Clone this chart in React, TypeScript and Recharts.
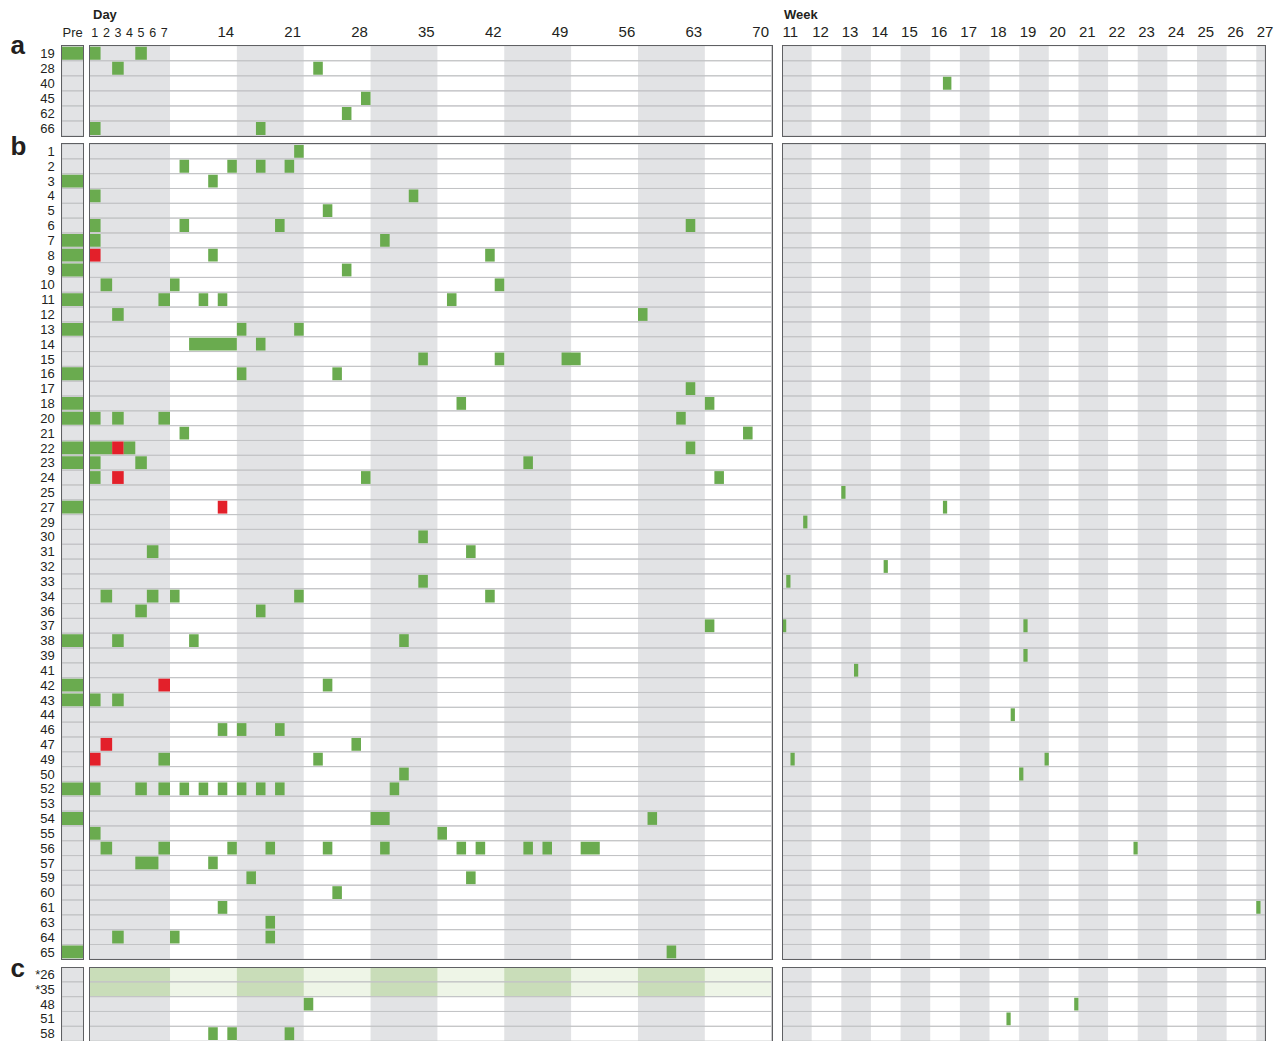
import React from 'react';
import { ComposedChart, Bar, Cell, XAxis, YAxis, ReferenceArea } from 'recharts';

const FONT = '"Liberation Sans", Arial, Helvetica, sans-serif';
const INK = '#231f20';
const GREEN = '#6aab4f';
const RED = '#e3202a';
const BAND = '#e2e3e5';
const LINE = '#c3c4c6';
const FRAME = '#5f6063';
const TINT_LIGHT = '#eef5e7';
const TINT_DARK = '#c9ddb9';

// ---------- rows ----------
const ROWS_A = ['19', '28', '40', '45', '62', '66'];
const ROWS_B = ['1', '2', '3', '4', '5', '6', '7', '8', '9', '10', '11', '12', '13', '14', '15', '16', '17', '18', '20', '21', '22', '23', '24', '25', '27', '29', '30', '31', '32', '33', '34', '36', '37', '38', '39', '41', '42', '43', '44', '46', '47', '49', '50', '52', '53', '54', '55', '56', '57', '59', '60', '61', '63', '64', '65'];
const ROWS_C = ['*26', '*35', '48', '51', '58'];
const TINT_ROWS_C = ['*26', '*35'];

// ---------- pre-treatment ----------
const PRE_A = ['19'];
const PRE_B = ['3', '7', '8', '9', '11', '13', '16', '18', '20', '22', '23', '27', '38', '42', '43', '52', '54', '65'];
const PRE_C: string[] = [];

// ---------- day marks: [row, first day, last day, kind] ----------
type DayMark = [string, number, number, 'g' | 'r'];
const DAY_MARKS_A: DayMark[] = [
  ['19', 1, 1, 'g'], ['19', 5, 5, 'g'], ['28', 3, 3, 'g'], ['28', 23, 23, 'g'],
  ['45', 28, 28, 'g'], ['62', 26, 26, 'g'], ['66', 1, 1, 'g'], ['66', 17, 17, 'g'],
];
const DAY_MARKS_B: DayMark[] = [
  ['1', 21, 21, 'g'],
  ['2', 9, 9, 'g'], ['2', 14, 14, 'g'], ['2', 17, 17, 'g'], ['2', 20, 20, 'g'],
  ['3', 12, 12, 'g'],
  ['4', 1, 1, 'g'], ['4', 33, 33, 'g'],
  ['5', 24, 24, 'g'],
  ['6', 1, 1, 'g'], ['6', 9, 9, 'g'], ['6', 19, 19, 'g'], ['6', 62, 62, 'g'],
  ['7', 1, 1, 'g'], ['7', 30, 30, 'g'],
  ['8', 1, 1, 'r'], ['8', 12, 12, 'g'], ['8', 41, 41, 'g'],
  ['9', 26, 26, 'g'],
  ['10', 2, 2, 'g'], ['10', 8, 8, 'g'], ['10', 42, 42, 'g'],
  ['11', 7, 7, 'g'], ['11', 11, 11, 'g'], ['11', 13, 13, 'g'], ['11', 37, 37, 'g'],
  ['12', 3, 3, 'g'], ['12', 57, 57, 'g'],
  ['13', 15, 15, 'g'], ['13', 21, 21, 'g'],
  ['14', 10, 14, 'g'], ['14', 17, 17, 'g'],
  ['15', 34, 34, 'g'], ['15', 42, 42, 'g'], ['15', 49, 50, 'g'],
  ['16', 15, 15, 'g'], ['16', 25, 25, 'g'],
  ['17', 62, 62, 'g'],
  ['18', 38, 38, 'g'], ['18', 64, 64, 'g'],
  ['20', 1, 1, 'g'], ['20', 3, 3, 'g'], ['20', 7, 7, 'g'], ['20', 61, 61, 'g'],
  ['21', 9, 9, 'g'], ['21', 68, 68, 'g'],
  ['22', 1, 2, 'g'], ['22', 3, 3, 'r'], ['22', 4, 4, 'g'], ['22', 62, 62, 'g'],
  ['23', 1, 1, 'g'], ['23', 5, 5, 'g'], ['23', 45, 45, 'g'],
  ['24', 1, 1, 'g'], ['24', 3, 3, 'r'], ['24', 28, 28, 'g'], ['24', 65, 65, 'g'],
  ['27', 13, 13, 'r'],
  ['30', 34, 34, 'g'],
  ['31', 6, 6, 'g'], ['31', 39, 39, 'g'],
  ['33', 34, 34, 'g'],
  ['34', 2, 2, 'g'], ['34', 6, 6, 'g'], ['34', 8, 8, 'g'], ['34', 21, 21, 'g'], ['34', 41, 41, 'g'],
  ['36', 5, 5, 'g'], ['36', 17, 17, 'g'],
  ['37', 64, 64, 'g'],
  ['38', 3, 3, 'g'], ['38', 10, 10, 'g'], ['38', 32, 32, 'g'],
  ['42', 7, 7, 'r'], ['42', 24, 24, 'g'],
  ['43', 1, 1, 'g'], ['43', 3, 3, 'g'],
  ['46', 13, 13, 'g'], ['46', 15, 15, 'g'], ['46', 19, 19, 'g'],
  ['47', 2, 2, 'r'], ['47', 27, 27, 'g'],
  ['49', 1, 1, 'r'], ['49', 7, 7, 'g'], ['49', 23, 23, 'g'],
  ['50', 32, 32, 'g'],
  ['52', 1, 1, 'g'], ['52', 5, 5, 'g'], ['52', 7, 7, 'g'], ['52', 9, 9, 'g'], ['52', 11, 11, 'g'],
  ['52', 13, 13, 'g'], ['52', 15, 15, 'g'], ['52', 17, 17, 'g'], ['52', 19, 19, 'g'], ['52', 31, 31, 'g'],
  ['54', 29, 30, 'g'], ['54', 58, 58, 'g'],
  ['55', 1, 1, 'g'], ['55', 36, 36, 'g'],
  ['56', 2, 2, 'g'], ['56', 7, 7, 'g'], ['56', 14, 14, 'g'], ['56', 18, 18, 'g'], ['56', 24, 24, 'g'],
  ['56', 30, 30, 'g'], ['56', 38, 38, 'g'], ['56', 40, 40, 'g'], ['56', 45, 45, 'g'], ['56', 47, 47, 'g'], ['56', 51, 52, 'g'],
  ['57', 5, 6, 'g'], ['57', 12, 12, 'g'],
  ['59', 16, 16, 'g'], ['59', 39, 39, 'g'],
  ['60', 25, 25, 'g'],
  ['61', 13, 13, 'g'],
  ['63', 18, 18, 'g'],
  ['64', 3, 3, 'g'], ['64', 8, 8, 'g'], ['64', 18, 18, 'g'],
  ['65', 60, 60, 'g'],
];
const DAY_MARKS_C: DayMark[] = [
  ['48', 22, 22, 'g'], ['58', 12, 12, 'g'], ['58', 14, 14, 'g'], ['58', 20, 20, 'g'],
];

// ---------- week marks: [row, week, day within week (0-6), length in days] ----------
type WeekMark = [string, number, number, number];
const WEEK_MARKS_A: WeekMark[] = [['40', 16, 3, 2]];
const WEEK_MARKS_B: WeekMark[] = [
  ['25', 13, 0, 1], ['27', 16, 3, 1], ['29', 11, 5, 1], ['32', 14, 3, 1], ['33', 11, 1, 1],
  ['37', 11, 0, 1], ['37', 19, 1, 1], ['39', 19, 1, 1], ['41', 13, 3, 1], ['44', 18, 5, 1],
  ['49', 11, 2, 1], ['49', 19, 6, 1], ['50', 19, 0, 1], ['56', 22, 6, 1], ['61', 27, 0, 1],
];
const WEEK_MARKS_C: WeekMark[] = [['48', 20, 6, 1], ['51', 18, 4, 1]];

// ---------- axes ----------
const DAY_TICKS_FIRST_WEEK = [1, 2, 3, 4, 5, 6, 7];
const DAY_TICKS_WEEKLY = [14, 21, 28, 35, 42, 49, 56, 63, 70];
const WEEK_TICKS = [11, 12, 13, 14, 15, 16, 17, 18, 19, 20, 21, 22, 23, 24, 25, 26, 27];
const LAST_DAY = 70;
const WEEK_DOMAIN: [number, number] = [11, 27.3];
const SHADED_DAY_RANGES: [number, number][] = [[1, 7], [15, 21], [29, 35], [43, 49], [57, 63]];
const SHADED_WEEKS = [11, 13, 15, 17, 19, 21, 23, 25, 27];

// first week is drawn wider than the following ones
const FIRST_WEEK_STRETCH = 1.2115;
const dayPos = (d: number) => (d <= 8 ? (d - 1) * FIRST_WEEK_STRETCH : 7 * FIRST_WEEK_STRETCH + (d - 8));
const DAY_DOMAIN: [number, number] = [0, dayPos(LAST_DAY + 1)];

// ---------- layout ----------
const PRE_X = 61.7, PRE_W = 21.8;
const DAY_X = 89.3, DAY_W = 682.7;
const WEEK_X = 782.3, WEEK_W = 483.2;
const AXIS_H = 45.7;
const PANELS = {
  a: { top: 45.7, rowH: 15.05 },
  b: { top: 144, rowH: 14.824 },
  c: { top: 967.3, rowH: 14.824 },
};

type Mark = { row: string; x1: number; x2: number; color: string };

const dayMarks = (m: DayMark[]): Mark[] =>
  m.map(([row, a, b, k]) => ({ row, x1: dayPos(a), x2: dayPos(b + 1), color: k === 'r' ? RED : GREEN }));
const weekMarks = (m: WeekMark[]): Mark[] =>
  m.map(([row, w, d, n]) => ({ row, x1: w + d / 7, x2: w + (d + n) / 7, color: GREEN }));
const preMarks = (rows: string[]): Mark[] => rows.map((row) => ({ row, x1: 0, x2: 1, color: GREEN }));

const DAY_AXIS = [
  ...DAY_TICKS_FIRST_WEEK.map((d) => ({ v: dayPos(d) + FIRST_WEEK_STRETCH / 2, label: String(d), small: true })),
  ...DAY_TICKS_WEEKLY.map((d) => ({ v: dayPos(d), label: String(d), small: false })),
];

const DayTick = (props: any) => {
  const { x, y, payload } = props;
  const t = DAY_AXIS.find((e) => Math.abs(e.v - payload.value) < 1e-6);
  if (!t) return <g />;
  return (
    <text x={x + (t.small ? 0 : -1.5)} y={y} textAnchor="middle" fontSize={t.small ? 12.5 : 15} fill={INK} fontFamily={FONT}>
      {t.label}
    </text>
  );
};
const WeekTick = (props: any) => {
  const { x, y, payload } = props;
  return (
    <text x={x + 0.5} y={y} textAnchor="start" fontSize={15} fill={INK} fontFamily={FONT}>
      {payload.value}
    </text>
  );
};
const PreTick = (props: any) => {
  const { x, y } = props;
  return (
    <text x={x} y={y} textAnchor="middle" fontSize={13} fill={INK} fontFamily={FONT}>
      Pre
    </text>
  );
};

interface GridProps {
  rows: string[];
  marks: Mark[];
  domain: [number, number];
  shaded: [number, number][];
  tintRows?: string[];
  left: number;
  top: number;
  width: number;
  rowH: number;
  axisTicks?: number[];
  axisTick?: (p: any) => React.ReactElement;
  showRowLabels?: boolean;
  rightRoom?: number;
}

function Grid(p: GridProps) {
  const height = p.rowH * p.rows.length;
  const axisH = p.axisTicks ? AXIS_H : 0;
  const yW = p.showRowLabels ? p.left : 0;
  const rightRoom = p.rightRoom || 0;
  const chartW = p.width + yW + rightRoom;
  const chartH = height + axisH;
  const byRow: Record<string, Mark[]> = {};
  p.rows.forEach((r) => (byRow[r] = []));
  p.marks.forEach((m) => byRow[m.row].push(m));
  const maxN = Math.max(1, ...p.rows.map((r) => byRow[r].length));
  const data = p.rows.map((r) => {
    const o: any = { row: r };
    byRow[r].forEach((m, k) => {
      o['m' + k] = [m.x1, m.x2];
      o['c' + k] = m.color;
    });
    return o;
  });
  const barSize = p.rowH - 2.01;
  const [lo, hi] = p.domain;
  return (
    <div style={{ position: 'absolute', left: p.left - yW, top: p.top - axisH, width: chartW, height: chartH }}>
      <ComposedChart
        layout="vertical"
        width={chartW}
        height={chartH}
        data={data}
        margin={{ top: 0, right: rightRoom, bottom: 0, left: 0 }}
        barSize={barSize}
        barGap={-barSize}
        barCategoryGap={0}
      >
        <XAxis
          type="number"
          domain={p.domain}
          allowDataOverflow
          hide={!p.axisTicks}
          orientation="top"
          height={axisH || 1}
          ticks={p.axisTicks}
          tick={p.axisTick}
          tickLine={false}
          axisLine={false}
          tickSize={0}
          tickMargin={9}
          interval={0}
        />
        <YAxis
          type="category"
          dataKey="row"
          hide={!p.showRowLabels}
          width={yW || 1}
          tickLine={false}
          axisLine={false}
          tickSize={0}
          tickMargin={7}
          interval={0}
          tick={{ fontSize: 13, fill: INK, fontFamily: FONT }}
        />
        {p.shaded.map(([a, b], i) => (
          <ReferenceArea key={'s' + i} x1={a} x2={b} y1={p.rows[0]} y2={p.rows[p.rows.length - 1]} fill={BAND} fillOpacity={1} stroke="none" ifOverflow="visible" />
        ))}
        {p.tintRows && p.tintRows.length > 0 && (
          <ReferenceArea x1={lo} x2={hi} y1={p.tintRows[0]} y2={p.tintRows[p.tintRows.length - 1]} fill={TINT_LIGHT} fillOpacity={1} stroke="none" ifOverflow="visible" />
        )}
        {p.tintRows && p.tintRows.length > 0 &&
          p.shaded.map(([a, b], i) => (
            <ReferenceArea key={'t' + i} x1={a} x2={b} y1={p.tintRows![0]} y2={p.tintRows![p.tintRows!.length - 1]} fill={TINT_DARK} fillOpacity={1} stroke="none" ifOverflow="visible" />
          ))}
        {p.rows.map((r) => (
          <ReferenceArea key={'r' + r} x1={lo} x2={hi} y1={r} y2={r} fill="none" fillOpacity={0} stroke={LINE} strokeWidth={1} ifOverflow="visible" />
        ))}
        {Array.from({ length: maxN }, (_, k) => (
          <Bar key={'b' + k} dataKey={'m' + k} isAnimationActive={false}>
            {data.map((d, i) => (
              <Cell key={i} fill={d['c' + k] || 'none'} />
            ))}
          </Bar>
        ))}
      </ComposedChart>
      <div
        style={{
          position: 'absolute',
          left: yW - 0.7,
          top: axisH - 0.7,
          width: p.width + 1.4,
          height: height + 1.4,
          border: `1.3px solid ${FRAME}`,
          boxSizing: 'border-box',
          pointerEvents: 'none',
        }}
      />
    </div>
  );
}

const dayShaded: [number, number][] = SHADED_DAY_RANGES.map(([a, b]) => [dayPos(a), dayPos(b + 1)]);
const weekShaded: [number, number][] = SHADED_WEEKS.map((w) => [w, Math.min(w + 1, WEEK_DOMAIN[1])]);
const dayTickValues = DAY_AXIS.map((t) => t.v);

function PanelGroup({ rows, pre, days, weeks, top, rowH, header, tintRows }: any) {
  return (
    <>
      <Grid rows={rows} marks={preMarks(pre)} domain={[0, 1]} shaded={[[0, 1]]} left={PRE_X} top={top} width={PRE_W} rowH={rowH}
        showRowLabels axisTicks={header ? [0.5] : undefined} axisTick={header ? PreTick : undefined} />
      <Grid rows={rows} marks={dayMarks(days)} domain={DAY_DOMAIN} shaded={dayShaded} tintRows={tintRows} left={DAY_X} top={top} width={DAY_W} rowH={rowH}
        axisTicks={header ? dayTickValues : undefined} axisTick={header ? DayTick : undefined} />
      <Grid rows={rows} marks={weekMarks(weeks)} domain={WEEK_DOMAIN} shaded={weekShaded} left={WEEK_X} top={top} width={WEEK_W} rowH={rowH}
        rightRoom={16}
        axisTicks={header ? WEEK_TICKS : undefined} axisTick={header ? WeekTick : undefined} />
    </>
  );
}

export default function App() {
  return (
    <div style={{ position: 'absolute', left: 0, top: 0, width: 1282, height: 1041, overflow: 'hidden', background: '#fff', fontFamily: FONT }}>
      <PanelGroup rows={ROWS_A} pre={PRE_A} days={DAY_MARKS_A} weeks={WEEK_MARKS_A} top={PANELS.a.top} rowH={PANELS.a.rowH} header />
      <PanelGroup rows={ROWS_B} pre={PRE_B} days={DAY_MARKS_B} weeks={WEEK_MARKS_B} top={PANELS.b.top} rowH={PANELS.b.rowH} />
      <PanelGroup rows={ROWS_C} pre={PRE_C} days={DAY_MARKS_C} weeks={WEEK_MARKS_C} top={PANELS.c.top} rowH={PANELS.c.rowH} tintRows={TINT_ROWS_C} />
      <svg width={1282} height={1041} style={{ position: 'absolute', left: 0, top: 0, pointerEvents: 'none' }}>
        <text x={10.5} y={53.5} fontSize={26} fontWeight="bold" fill={INK} fontFamily={FONT}>a</text>
        <text x={10.5} y={154.5} fontSize={26} fontWeight="bold" fill={INK} fontFamily={FONT}>b</text>
        <text x={10.5} y={977} fontSize={26} fontWeight="bold" fill={INK} fontFamily={FONT}>c</text>
        <text x={93} y={19.3} fontSize={13} fontWeight="bold" fill={INK} fontFamily={FONT}>Day</text>
        <text x={784} y={19.3} fontSize={13} fontWeight="bold" fill={INK} fontFamily={FONT}>Week</text>
      </svg>
    </div>
  );
}
